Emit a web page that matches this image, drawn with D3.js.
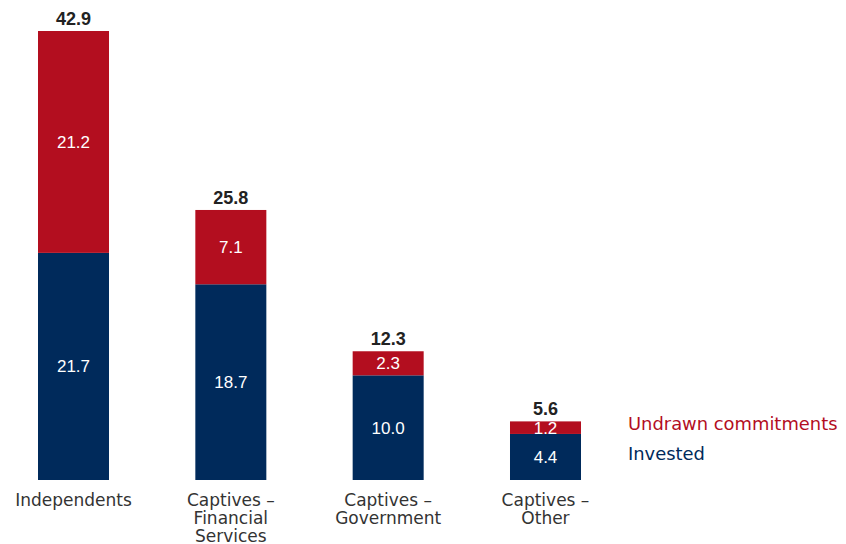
<!DOCTYPE html>
<html>
<head>
<meta charset="utf-8">
<script src="https://cdn.jsdelivr.net/npm/d3@7"></script>
<style>
  html, body { margin: 0; padding: 0; background: #ffffff; }
  svg { display: block; }
</style>
</head>
<body>
<svg id="chart" width="846" height="544"></svg>
<script>
const categories = ["Independents", "Captives – Financial Services", "Captives – Government", "Captives – Other"];
const categoryLines = [["Independents"], ["Captives –", "Financial", "Services"], ["Captives –", "Government"], ["Captives –", "Other"]];
const invested = [21.7, 18.7, 10.0, 4.4];
const undrawn = [21.2, 7.1, 2.3, 1.2];
const totals = [42.9, 25.8, 12.3, 5.6];
const seriesNames = ["Undrawn commitments", "Invested"];

const RED = "#b30e1f";
const NAVY = "#002a5b";
const numFont = "'Liberation Sans', Arial, sans-serif";
const textFont = "'DejaVu Sans', sans-serif";

const svg = d3.select("#chart");

const x = d3.scaleBand()
  .domain(categories)
  .range([38, 581])
  .paddingInner(0.5487)
  .paddingOuter(0);

const y = d3.scaleLinear()
  .domain([0, d3.max(totals)])
  .range([480, 31]);

const data = categories.map((c, i) => ({
  cat: c, lines: categoryLines[i], inv: invested[i], und: undrawn[i], tot: totals[i]
}));

const g = svg.append("g");

// Invested (bottom)
g.selectAll("rect.inv").data(data).join("rect")
  .attr("class", "inv")
  .attr("x", d => x(d.cat))
  .attr("width", x.bandwidth())
  .attr("y", d => y(d.inv))
  .attr("height", d => y(0) - y(d.inv))
  .attr("fill", NAVY);

// Undrawn (top)
g.selectAll("rect.und").data(data).join("rect")
  .attr("class", "und")
  .attr("x", d => x(d.cat))
  .attr("width", x.bandwidth())
  .attr("y", d => y(d.inv + d.und))
  .attr("height", d => y(d.inv) - y(d.inv + d.und))
  .attr("fill", RED);

// Segment labels
g.selectAll("text.invl").data(data).join("text")
  .attr("class", "invl")
  .attr("x", d => x(d.cat) + x.bandwidth() / 2)
  .attr("y", d => (y(0) + y(d.inv)) / 2)
  .attr("dy", "0.35em")
  .attr("text-anchor", "middle")
  .attr("font-family", numFont)
  .attr("font-size", 17)
  .attr("fill", "#ffffff")
  .text(d => d.inv.toFixed(1));

g.selectAll("text.undl").data(data).join("text")
  .attr("class", "undl")
  .attr("x", d => x(d.cat) + x.bandwidth() / 2)
  .attr("y", d => (y(d.inv) + y(d.inv + d.und)) / 2)
  .attr("dy", "0.35em")
  .attr("text-anchor", "middle")
  .attr("font-family", numFont)
  .attr("font-size", 17)
  .attr("fill", "#ffffff")
  .text(d => d.und.toFixed(1));

// Totals
g.selectAll("text.tot").data(data).join("text")
  .attr("class", "tot")
  .attr("x", d => x(d.cat) + x.bandwidth() / 2)
  .attr("y", d => y(d.tot) - 6)
  .attr("text-anchor", "middle")
  .attr("font-family", numFont)
  .attr("font-weight", "bold")
  .attr("font-size", 18)
  .attr("fill", "#222222")
  .text(d => d.tot.toFixed(1));

// Category labels
const cl = g.selectAll("text.cat").data(data).join("text")
  .attr("class", "cat")
  .attr("x", d => x(d.cat) + x.bandwidth() / 2)
  .attr("y", 505.5)
  .attr("text-anchor", "middle")
  .attr("font-family", textFont)
  .attr("font-size", 17)
  .attr("fill", "#333333");
cl.selectAll("tspan").data(d => d.lines.map(l => ({ l, cx: x(d.cat) + x.bandwidth() / 2 }))).join("tspan")
  .attr("x", t => t.cx)
  .attr("dy", (t, i) => i === 0 ? 0 : 18)
  .text(t => t.l);

// Legend
const legendColors = [RED, NAVY];
g.selectAll("text.leg").data(seriesNames).join("text")
  .attr("class", "leg")
  .attr("x", 628)
  .attr("y", (d, i) => 430 + i * 30)
  .attr("font-family", textFont)
  .attr("font-size", 17.9)
  .attr("fill", (d, i) => legendColors[i])
  .text(d => d);
</script>
</body>
</html>
